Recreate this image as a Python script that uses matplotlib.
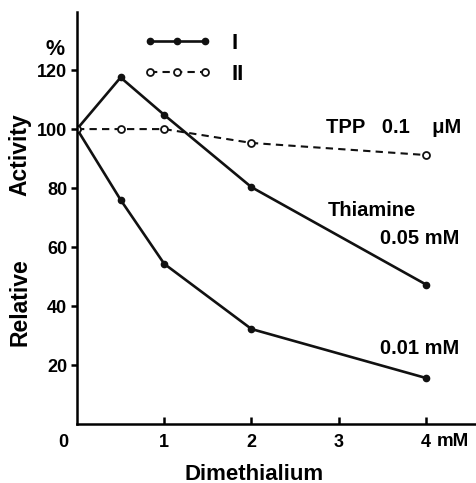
import matplotlib
matplotlib.use("Agg")
import matplotlib.pyplot as plt

plt.rcParams['font.family'] = ['Liberation Sans', 'DejaVu Sans']
plt.rcParams['font.weight'] = 'bold'

# Dimethialium concentration (mM)
conc = [0, 0.5, 1, 2, 4]
# I: thiamine, relative activity (%)
thiamine_005 = [100, 117.5, 104.8, 80.3, 47.3]
thiamine_001 = [100, 76, 54.3, 32.2, 15.6]
# II: TPP 0.1 uM
tpp = [100, 100, 100, 95.3, 91.2]

xticks = [1, 2, 3, 4]
yticks = [20, 40, 60, 80, 100, 120]

fig = plt.figure(figsize=(4.77, 4.83), dpi=100)
ax = fig.add_axes([77 / 477, 1 - 424 / 483, 1 - 77 / 477, (424 - 12) / 483])

line_kw = dict(color='#111111', lw=1.9, marker='o', ms=4.5)
l1, = ax.plot(conc, thiamine_005, label='I', **line_kw)
ax.plot(conc, thiamine_001, **line_kw)
l2, = ax.plot(conc, tpp, color='#111111', lw=1.5, ls=(0, (3.5, 2.5)), marker='o',
              ms=5, mfc='white', mew=1.3, label='II')

ax.set_xlim(0, 4.585)
ax.set_ylim(0, 139.7)
ax.spines['top'].set_visible(False)
ax.spines['right'].set_visible(False)
for s in ('left', 'bottom'):
    ax.spines[s].set_linewidth(1.8)

ax.set_xticks(xticks)
ax.set_xticklabels([str(t) for t in xticks])
ax.set_yticks(yticks)
ax.set_yticklabels([str(t) for t in yticks])
ax.tick_params(axis='x', direction='in', length=5, width=1.8, labelsize=13, pad=7)
ax.tick_params(axis='y', direction='out', length=4, width=1.8, labelsize=13, pad=3)

ax.text(-0.16, -6.2, '0', fontsize=13, ha='center', va='center')
ax.text(4.31, -5.9, 'mM', fontsize=13.5, ha='center', va='center')
ax.text(-0.25, 127, '%', fontsize=15.5, ha='center', va='center')

fig.text(20 / 477, 1 - 155 / 483, 'Activity', rotation=90, fontsize=16.5,
         ha='center', va='center')
fig.text(20 / 477, 1 - 302 / 483, 'Relative', rotation=90, fontsize=16.5,
         ha='center', va='center')
fig.text(254 / 477, 1 - 474 / 483, 'Dimethialium', fontsize=16,
         ha='center', va='center')

ax.text(2.85, 100.5, 'TPP   0.1    \u03bcM', fontsize=14.5, ha='left', va='center')
ax.text(2.87, 72.5, 'Thiamine', fontsize=14.5, ha='left', va='center')
ax.text(3.47, 63, '0.05 mM', fontsize=14.5, ha='left', va='center')
ax.text(3.47, 25.5, '0.01 mM', fontsize=14.5, ha='left', va='center')

leg = ax.legend(handles=[l1, l2], loc='upper left', bbox_to_anchor=(123 / 477, 1 - 13 / 483),
                bbox_transform=fig.transFigure, frameon=False, numpoints=3,
                handlelength=3.1, handletextpad=0.9, labelspacing=0.45,
                prop={'size': 16, 'weight': 'bold'})

fig.savefig('out.png', dpi=100)
